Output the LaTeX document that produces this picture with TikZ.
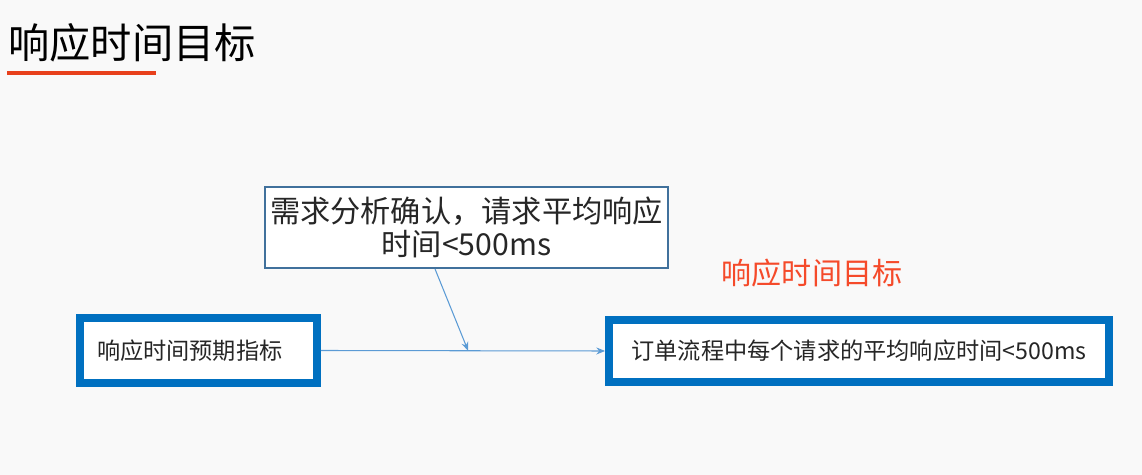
\documentclass[tikz,border=0pt]{standalone}
\usepackage{fontspec}
\setmainfont{Noto Sans CJK SC}
\usetikzlibrary{arrows.meta,calc}
\definecolor{boxblue}{HTML}{0070C0}
\definecolor{thinblue}{HTML}{41719C}
\definecolor{linkblue}{HTML}{5B9BD5}
\definecolor{titlered}{HTML}{E8401C}
\definecolor{goalred}{HTML}{F54A2A}
\definecolor{inkgray}{HTML}{262626}
\definecolor{paper}{HTML}{F9F9F9}
\tikzset{
  thickbox/.style={draw=boxblue, line width=4.5pt, fill=white, text=inkgray},
  thinbox/.style={draw=thinblue, line width=1.1pt, fill=white, text=inkgray, align=center},
  link/.style={draw=linkblue, line width=0.6pt, -{Stealth[length=5pt,width=4pt]}}
}
\begin{document}
\begin{tikzpicture}[x=0.02cm, y=-0.02cm]
    \fill[paper] (0,0) rectangle (1142,475);
    \useasboundingbox (0,0) rectangle (1142,475);

    \node[anchor=west, inner sep=0pt, text=black, font=\fontsize{23.5}{26}\selectfont] (title) at (8,43) {响应时间目标};
    \draw[titlered, line width=2.3pt] (7,73) -- (156,73);

    \node[thinbox, minimum width=8.06cm, minimum height=1.62cm, inner sep=0pt,
          font=\fontsize{17.2}{18.8}\selectfont] (need) at (466.5,227.5)
          {需求分析确认，请求平均响应\\时间<500ms};

    \node[thickbox, minimum height=1.3cm, text width=4.06cm, inner xsep=0.34cm, inner ysep=0pt,
          align=left, font=\fontsize{13.2}{15}\selectfont] (expect) at (198.5,350.5) {响应时间预期指标};
    \node[thickbox, minimum width=10cm, minimum height=1.24cm, inner sep=0pt,
          font=\fontsize{13.2}{15}\selectfont] (order) at (859,351) {订单流程中每个请求的平均响应时间<500ms};

    \node[text=goalred, inner sep=0pt, font=\fontsize{17.1}{19}\selectfont] (goal) at (812,273) {响应时间目标};

    \coordinate (join) at ($(expect.east)!0.518!(order.west)$);
    \draw[link] (expect.east) -- (order.west);
    \draw[link] ([xshift=-0.63cm]need.south) -- (join);
\end{tikzpicture}
\end{document}
